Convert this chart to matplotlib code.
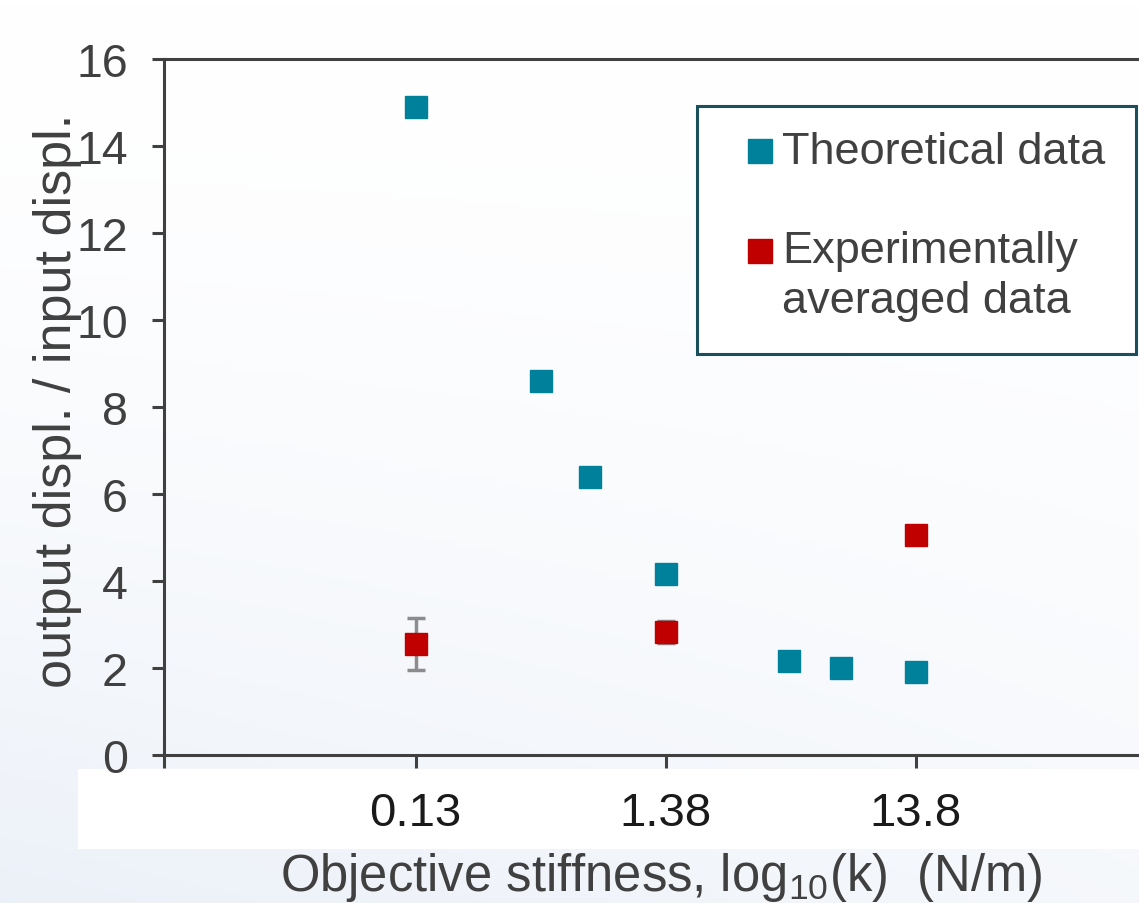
import numpy as np
import matplotlib
matplotlib.use("Agg")
import matplotlib.pyplot as plt
from matplotlib.patches import Rectangle
from matplotlib.lines import Line2D

plt.rcParams['font.family'] = ['Liberation Sans', 'DejaVu Sans']
plt.rcParams['mathtext.fontset'] = 'custom'
plt.rcParams['mathtext.rm'] = 'Liberation Sans'

# Data (k in N/m, log x axis)
theo_k = [0.138, 0.436, 0.69, 1.38, 4.28, 6.9, 13.8]
theo_ratio = [14.9, 8.6, 6.4, 4.15, 2.15, 2.0, 1.9]

exp_k = [0.138, 1.38, 13.8]
exp_ratio = [2.55, 2.83, 5.05]
exp_err = [0.6, 0.25, 0.0]

tick_k = [0.138, 1.38, 13.8]
tick_labels = ["0.13", "1.38", "13.8"]
y_ticks = [0, 2, 4, 6, 8, 10, 12, 14, 16]

teal = "#00819B"
red = "#C00000"
txt = "#404040"

W, H = 1139, 904
fig = plt.figure(figsize=(W / 100, H / 100), dpi=100)

# slide-like background: faint blue tint towards bottom left
bg = fig.add_axes([0, 0, 1, 1], zorder=-10)
yy, xx = np.mgrid[0:1:200j, 0:1:200j]
t = np.clip(yy, 0, 1) ** 1.6 * (1 - 0.5 * xx)
white = np.array([1.0, 1.0, 1.0])
tint = np.array([0.925, 0.945, 0.975])
img = white * (1 - t[..., None]) + tint * t[..., None]
bg.imshow(img, extent=[0, 1, 0, 1], origin="upper", aspect="auto")
bg.add_patch(Rectangle((78 / W, 1 - 850 / H), 1, 80 / H, color="white", lw=0))
bg.set_xlim(0, 1)
bg.set_ylim(0, 1)
bg.axis("off")

ax = fig.add_axes([164 / W, (H - 756) / H, (1170 - 164) / W, 696 / H])
ax.patch.set_alpha(0)
ax.set_xscale("log")
ax.set_xlim(0.0136, 143.2)
ax.set_ylim(0, 16)

ax.plot(theo_k, theo_ratio, "s", color=teal, ms=16.5, mec=teal, zorder=3)
ax.errorbar(exp_k, exp_ratio, yerr=exp_err, fmt="s", color=red, ms=16.5, mec=red,
            ecolor="#8C8C8C", elinewidth=2.5, capsize=6.5, capthick=2.5, zorder=3)

for s in ["left", "bottom", "top", "right"]:
    ax.spines[s].set_color(txt)
    ax.spines[s].set_linewidth(2.2)

ax.set_yticks(y_ticks)
ax.set_xticks([0.0136] + tick_k)
ax.set_xticklabels([""] + tick_labels)
ax.minorticks_off()
ax.tick_params(axis="both", direction="out", length=9, width=2.2, color=txt, pad=17)
ax.tick_params(axis="y", labelsize=33.5, labelcolor=txt)
ax.tick_params(axis="x", labelsize=34, labelcolor="#1a1a1a")

fig.text(58 / W, 1 - 401 / H, "output displ. / input displ.", rotation=90,
         ha="center", va="center", fontsize=37.5, color=txt)
fig.text(661 / W, 1 - 878 / H, r"Objective stiffness, log$_{\mathregular{10}}$(k)  (N/m)",
         ha="center", va="center", fontsize=36.5, color=txt)

# legend box drawn in figure pixels
fig.add_artist(Rectangle((697 / W, 1 - 355 / H), (1136 - 697) / W, (355 - 107) / H,
                         transform=fig.transFigure, facecolor="white",
                         edgecolor="#1B4F5E", lw=2.2, zorder=5))
fig.add_artist(Line2D([760 / W], [1 - 152 / H], marker="s", ms=17, color=teal,
                      transform=fig.transFigure, zorder=6))
fig.add_artist(Line2D([760 / W], [1 - 252 / H], marker="s", ms=17, color=red,
                      transform=fig.transFigure, zorder=6))
fig.text(782 / W, 1 - 152 / H, "Theoretical data", ha="left", va="center",
         fontsize=32.5, color=txt, zorder=6)
fig.text(782 / W, 1 - 252 / H, "Experimentally", ha="left", va="center",
         fontsize=32.5, color=txt, zorder=6)
fig.text(782 / W, 1 - 302 / H, "averaged data", ha="left", va="center",
         fontsize=32.5, color=txt, zorder=6)

fig.savefig("out.png", dpi=100)
